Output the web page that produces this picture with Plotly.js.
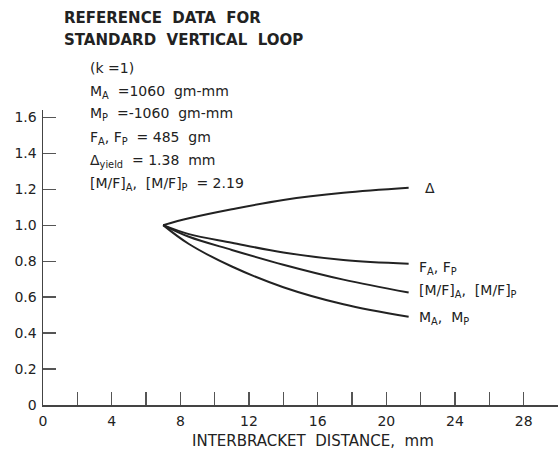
<!DOCTYPE html>
<html>
<head>
<meta charset="utf-8">
<script src="https://cdn.plot.ly/plotly-3.0.1.min.js"></script>
<style>html,body{margin:0;padding:0;background:#fff;}#chart{width:560px;height:450px;}</style>
</head>
<body>
<div id="chart"></div>
<script>
// Data
const distance = [7, 8.5, 11, 14, 17.5, 21.3];
const deltaRatio = [1.0, 1.038, 1.088, 1.14, 1.18, 1.208];
const forceRatio = [1.0, 0.95, 0.902, 0.848, 0.806, 0.785];
const mfRatio = [1.0, 0.935, 0.862, 0.78, 0.697, 0.625];
const momentRatio = [1.0, 0.895, 0.77, 0.655, 0.56, 0.49];

const seriesNames = ["Δ", "F<sub>A</sub>, F<sub>P</sub>", "[M/F]<sub>A</sub>,  [M/F]<sub>P</sub>", "M<sub>A</sub>,  M<sub>P</sub>"];

const xTickVals = [0, 4, 8, 12, 16, 20, 24, 28];
const xTickText = ["0", "4", "8", "12", "16", "20", "24", "28"];
const yTickVals = [0, 0.2, 0.4, 0.6, 0.8, 1.0, 1.2, 1.4, 1.6];
const yTickText = ["0", "0.2", "0.4", "0.6", "0.8", "1.0", "1.2", "1.4", "1.6"];

const titleLines = ["REFERENCE  DATA  FOR", "STANDARD  VERTICAL  LOOP"];
const infoLines = [
  "(k =1)",
  "M<sub>A</sub>  =1060  gm-mm",
  "M<sub>P</sub>  =-1060  gm-mm",
  "F<sub>A</sub>, F<sub>P</sub>  = 485  gm",
  "Δ<sub>yield</sub>  = 1.38  mm",
  "[M/F]<sub>A</sub>,  [M/F]<sub>P</sub>  = 2.19"
];
const xTitle = "INTERBRACKET  DISTANCE,  mm";

const ink = "#222";
const fontFam = "DejaVu Sans, sans-serif";
const ML = 43, MR = 2, MT = 110, MB = 45, W = 560, H = 450;
const pw = W - ML - MR, ph = H - MT - MB;
const px = v => (v - ML) / pw;
const py = v => (H - MB - v) / ph;

const ys = [deltaRatio, forceRatio, mfRatio, momentRatio];
const traces = ys.map((y, i) => ({
  x: distance, y: y, type: "scatter", mode: "lines",
  line: {color: ink, width: 2, shape: "spline", smoothing: 1},
  name: seriesNames[i], showlegend: false, hoverinfo: "none"
}));

const annotations = [];
const titleY = [18, 40];
titleLines.forEach((t, i) => annotations.push({
  text: "<b>" + t + "</b>", xref: "paper", yref: "paper", x: px(62), y: py(titleY[i]),
  xanchor: "left", yanchor: "middle", showarrow: false,
  font: {family: fontFam, size: 15, color: ink}
}));
const infoY = [68, 92, 114, 138, 161, 184];
infoLines.forEach((t, i) => annotations.push({
  text: t, xref: "paper", yref: "paper", x: px(88), y: py(infoY[i]),
  xanchor: "left", yanchor: "middle", showarrow: false,
  font: {family: fontFam, size: 14, color: ink}
}));
const labelX = [423, 417, 417, 417];
const labelY = [188, 268, 291, 318];
seriesNames.forEach((t, i) => annotations.push({
  text: t, xref: "paper", yref: "paper", x: px(labelX[i]), y: py(labelY[i]),
  xanchor: "left", yanchor: "middle", showarrow: false,
  font: {family: fontFam, size: 14, color: ink}
}));
annotations.push({
  text: xTitle, xref: "paper", yref: "paper", x: px(313), y: py(441),
  xanchor: "center", yanchor: "middle", showarrow: false,
  font: {family: fontFam, size: 15, color: ink}
});

const layout = {
  width: W, height: H,
  margin: {l: ML, r: MR, t: MT, b: MB, pad: 0},
  paper_bgcolor: "#fff", plot_bgcolor: "#fff",
  showlegend: false,
  xaxis: {
    range: [0, 30], showgrid: false, zeroline: false,
    showline: true, linecolor: "#444", linewidth: 1.5,
    ticks: "inside", ticklen: 13, tickwidth: 1.2, tickcolor: "#555",
    tickmode: "array", tickvals: xTickVals, ticktext: xTickText,
    minor: {tickmode: "linear", tick0: 0, dtick: 2, ticks: "inside", ticklen: 13, tickwidth: 1.2, tickcolor: "#555", showgrid: false},
    tickfont: {family: fontFam, size: 14, color: ink},
    ticklabelstandoff: 3
  },
  yaxis: {
    range: [0, 1.64], showgrid: false, zeroline: false,
    showline: true, linecolor: "#444", linewidth: 1.5,
    ticks: "inside", ticklen: 13, tickwidth: 1.2, tickcolor: "#555",
    tickmode: "array", tickvals: yTickVals, ticktext: yTickText,
    tickfont: {family: fontFam, size: 14, color: ink},
    ticklabelstandoff: 2
  },
  annotations: annotations
};

Plotly.newPlot("chart", traces, layout, {staticPlot: true, displayModeBar: false});
</script>
</body>
</html>
